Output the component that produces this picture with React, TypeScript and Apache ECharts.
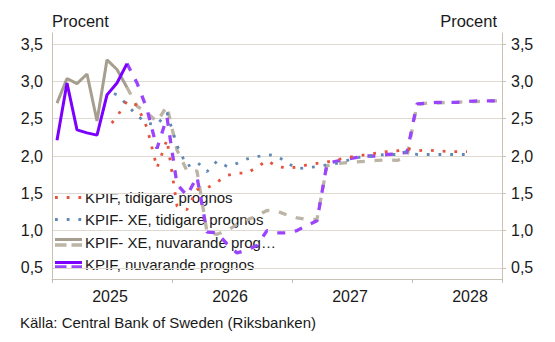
import React, { useEffect, useRef } from "react";
import * as echarts from "echarts";

// Monthly categories Jan 2025 – Sep 2028
const years = ["2025", "2026", "2027", "2028"];
const monthsPerYear = [12, 12, 12, 9];
const months: string[] = [];
years.forEach((y, k) => {
  for (let m = 1; m <= monthsPerYear[k]; m++) months.push(`${y}-${String(m).padStart(2, "0")}`);
});

const yTicks = [0.5, 1.0, 1.5, 2.0, 2.5, 3.0, 3.5];

// Outcomes (Jan–Aug 2025)
const kpifOutcome = [2.21, 2.98, 2.35, 2.31, 2.28, 2.82, 2.98, 3.24];
const kpifxeOutcome = [2.71, 3.04, 2.97, 3.1, 2.47, 3.29, 3.16, 2.92];

// Current forecasts, Aug 2025 (index 7) – Sep 2028
const kpifForecast = [
  3.24, 2.98, 2.63, 2.1, 2.52, 1.62, 1.47, 1.72, 0.98, 0.97, 0.82, 0.7, 0.74, 0.8,
  1.0, 0.97, 0.97, 1.0, 1.07, 1.13, 1.9, 1.93, 1.96, 1.98, 2.0, 2.0, 2.02, 2.03,
  2.05, 2.7, 2.71, 2.72, 2.72, 2.72, 2.73, 2.74, 2.74, 2.74,
];
const kpifxeForecast = [
  2.92, 2.67, 2.58, 2.46, 2.67, 2.08, 1.8, 1.8, 0.98, 0.95, 1.0, 1.08, 1.14, 1.2,
  1.27, 1.26, 1.21, 1.17, 1.15, 1.15, 1.87, 1.9, 1.91, 1.92, 1.93, 1.94, 1.95, 1.94,
  1.99, 2.69, 2.71, 2.71, 2.72, 2.72, 2.73, 2.73, 2.74, 2.74,
];

// Previous forecasts, Jun 2025 (index 5) – Jun 2028
const kpifPrev = [
  2.36, 2.53, 2.74, 2.68, 2.38, 1.84, 2.22, 1.33, 1.28, 1.55, 1.57, 1.65, 1.74, 1.77,
  1.77, 1.85, 1.94, 1.86, 1.84, 1.85, 1.88, 1.9, 1.92, 1.95, 1.98, 2.0, 2.02, 2.04,
  2.06, 2.07, 2.1, 2.07, 2.08, 2.07, 2.06, 2.06, 2.06,
];
const kpifxePrev = [
  2.88, 2.82, 2.69, 2.54, 2.44, 2.42, 2.58, 2.14, 1.86, 1.92, 1.79, 1.93, 1.86, 1.9,
  1.96, 1.99, 2.02, 2.0, 1.91, 1.83, 1.84, 1.86, 1.88, 1.9, 1.94, 1.98, 1.99, 2.01,
  2.02, 2.02, 2.06, 2.02, 2.02, 2.02, 2.02, 2.02, 2.02,
];

const place = (vals: number[], start: number) =>
  months.map((_, i) => (i >= start && i < start + vals.length ? vals[i - start] : null));

const FONT = "'Liberation Sans', Arial, sans-serif";
const TXT = "#1a1a1a";
const AXIS = "#c9c1b4";
const GRID = "#dedad1";
const C = {
  purple: "#7b00ff",
  purpleDash: "#9a45fb",
  gray: "#a69e8e",
  grayDash: "#bcb4a5",
  red: "#e5533d",
  blue: "#5f88b5",
};

export default function App() {
  const ref = useRef<HTMLDivElement>(null);
  useEffect(() => {
    if (!ref.current) return;
    const chart = echarts.init(ref.current, null, { renderer: "svg" });
    const fmt = (v: number) => v.toFixed(1).replace(".", ",");
    const yBase = {
      type: "value",
      min: 0.35,
      max: 3.65,
      axisLine: { show: true, lineStyle: { color: AXIS, width: 1 } },
      axisLabel: {
        customValues: yTicks,
        formatter: fmt,
        fontSize: 16,
        fontFamily: FONT,
        color: TXT,
        margin: 9,
      },
    };
    const legendRows = [
      { y: 197.5, label: "KPIF, tidigare prognos" },
      { y: 219.5, label: "KPIF- XE, tidigare prognos" },
      { y: 242, label: "KPIF- XE, nuvarande prog…" },
      { y: 264.5, label: "KPIF, nuvarande prognos" },
    ];
    chart.setOption({
      animation: false,
      grid: { left: 52, right: 53, top: 33, bottom: 63, containLabel: false },
      xAxis: {
        type: "category",
        data: months,
        boundaryGap: true,
        axisLine: { lineStyle: { color: AXIS, width: 1 } },
        axisTick: {
          show: true,
          interval: (i: number) => i % 12 === 0,
          length: 4,
          lineStyle: { color: AXIS },
        },
        axisLabel: {
          interval: (i: number) => i % 12 === 6,
          formatter: (v: string) => v.slice(0, 4),
          fontSize: 16,
          fontFamily: FONT,
          color: TXT,
          margin: 9,
          padding: [0, 14, 0, 0],
        },
        splitLine: { show: false },
      },
      yAxis: [
        {
          ...yBase,
          position: "left",
          axisTick: { show: false, customValues: yTicks },
          splitLine: { show: true, lineStyle: { color: GRID, width: 1 } },
        },
        {
          ...yBase,
          position: "right",
          axisTick: { show: true, customValues: yTicks, length: 4, lineStyle: { color: AXIS } },
          splitLine: { show: false },
        },
      ],
      series: [
        {
          name: "KPIF-XE, nuvarande prognos (prognos)",
          type: "line",
          data: place(kpifxeForecast, 7),
          symbol: "none",
          lineStyle: { color: C.grayDash, width: 3.3, type: [8, 9.7] },
          z: 2,
        },
        {
          name: "KPIF, nuvarande prognos (prognos)",
          type: "line",
          data: place(kpifForecast, 7),
          symbol: "none",
          lineStyle: { color: C.purpleDash, width: 3.3, type: [8, 9.7] },
          z: 3,
        },
        {
          name: "KPIF-XE, tidigare prognos",
          type: "line",
          data: place(kpifxePrev, 5),
          symbol: "none",
          lineStyle: { color: C.blue, width: 2.8, type: [2.8, 8.9], dashOffset: 3.7 },
          z: 4,
        },
        {
          name: "KPIF, tidigare prognos",
          type: "line",
          data: place(kpifPrev, 5),
          symbol: "none",
          lineStyle: { color: C.red, width: 2.8, type: [2.8, 8.9], dashOffset: 3.7 },
          z: 5,
        },
        {
          name: "KPIF-XE, utfall",
          type: "line",
          data: place(kpifxeOutcome, 0),
          symbol: "none",
          lineStyle: { color: C.gray, width: 3 },
          z: 6,
        },
        {
          name: "KPIF, utfall",
          type: "line",
          data: place(kpifOutcome, 0),
          symbol: "none",
          lineStyle: { color: C.purple, width: 3 },
          z: 7,
        },
      ],
      graphic: [
        {
          type: "text",
          x: 52,
          y: 21,
          style: { text: "Procent", fill: TXT, fontSize: 16.5, fontFamily: FONT, verticalAlign: "middle", align: "left" },
        },
        {
          type: "text",
          x: 497,
          y: 21,
          style: { text: "Procent", fill: TXT, fontSize: 16.5, fontFamily: FONT, verticalAlign: "middle", align: "right" },
        },
        {
          type: "text",
          x: 20,
          y: 322,
          style: {
            text: "Källa: Central Bank of Sweden (Riksbanken)",
            fill: TXT,
            fontSize: 15,
            fontFamily: FONT,
            verticalAlign: "middle",
            align: "left",
          },
        },
        {
          type: "line",
          shape: { x1: 55, y1: legendRows[0].y, x2: 83, y2: legendRows[0].y },
          style: { stroke: C.red, lineWidth: 2.8, lineDash: [2.8, 8.9] },
        },
        {
          type: "line",
          shape: { x1: 55, y1: legendRows[1].y, x2: 83, y2: legendRows[1].y },
          style: { stroke: C.blue, lineWidth: 2.8, lineDash: [2.8, 8.9] },
        },
        {
          type: "line",
          shape: { x1: 55, y1: 239.5, x2: 82, y2: 239.5 },
          style: { stroke: C.gray, lineWidth: 3 },
        },
        {
          type: "line",
          shape: { x1: 55, y1: 245, x2: 82, y2: 245 },
          style: { stroke: C.grayDash, lineWidth: 3.3, lineDash: [11.5, 5] },
        },
        {
          type: "line",
          shape: { x1: 55, y1: 262.5, x2: 82, y2: 262.5 },
          style: { stroke: C.purple, lineWidth: 3 },
        },
        {
          type: "line",
          shape: { x1: 55, y1: 267, x2: 82, y2: 267 },
          style: { stroke: C.purpleDash, lineWidth: 3.3, lineDash: [11.5, 5] },
        },
        ...legendRows.map((r) => ({
          type: "text",
          x: 85,
          y: r.y,
          style: { text: r.label, fill: TXT, fontSize: 15, fontFamily: FONT, verticalAlign: "middle", align: "left" },
        })),
      ],
    });
    return () => chart.dispose();
  }, []);
  return <div ref={ref} style={{ position: "absolute", left: 0, top: 0, width: 555, height: 342 }} />;
}
